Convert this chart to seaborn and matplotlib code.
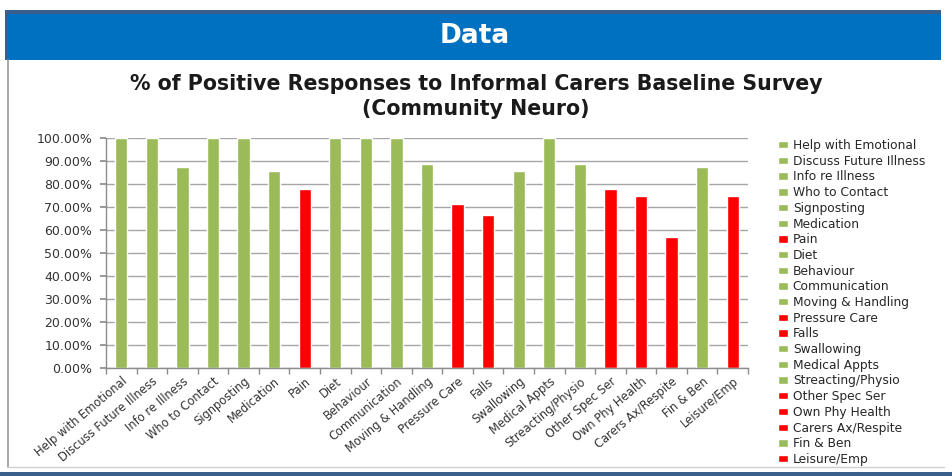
import matplotlib
matplotlib.use("Agg")
import matplotlib.pyplot as plt
import seaborn as sns
import pandas as pd
from matplotlib.patches import Rectangle
from matplotlib.lines import Line2D
from matplotlib.ticker import FuncFormatter, MultipleLocator

categories = ["Help with Emotional", "Discuss Future Illness", "Info re Illness",
              "Who to Contact", "Signposting", "Medication", "Pain", "Diet",
              "Behaviour", "Communication", "Moving & Handling", "Pressure Care",
              "Falls", "Swallowing", "Medical Appts", "Streacting/Physio",
              "Other Spec Ser", "Own Phy Health", "Carers Ax/Respite",
              "Fin & Ben", "Leisure/Emp"]
values = [100.0, 100.0, 87.5, 100.0, 100.0, 85.71, 77.78, 100.0, 100.0, 100.0,
          88.89, 71.43, 66.67, 85.71, 100.0, 88.89, 77.78, 75.0, 57.14, 87.5, 75.0]
status = ["ok", "ok", "ok", "ok", "ok", "ok", "low", "ok", "ok", "ok", "ok",
          "low", "low", "ok", "ok", "ok", "low", "low", "low", "ok", "low"]

GREEN = "#9BBB59"
RED = "#FF0000"
colors = [GREEN if s == "ok" else RED for s in status]

df = pd.DataFrame({"cat": categories, "val": values})

sns.set_theme(style="white")
plt.rcParams["font.family"] = ["DejaVu Sans"]

fig = plt.figure(figsize=(9.52, 4.76), dpi=100)
fig.patch.set_facecolor("white")

H = 476.0
W = 952.0
def fx(x): return x / W
def fy(y): return 1 - y / H

# header bar
fig.patches.append(Rectangle((fx(7), fy(60)), fx(934), (60 - 10) / H,
                             transform=fig.transFigure, facecolor="#0070C0",
                             edgecolor="none", zorder=0))
fig.patches.append(Rectangle((fx(7), fy(14)), fx(934), 4 / H,
                             transform=fig.transFigure, facecolor="#3A5F8A",
                             edgecolor="none", zorder=1))
fig.patches.append(Rectangle((fx(5), fy(60)), fx(3), (60 - 10) / H,
                             transform=fig.transFigure, facecolor="#3A5F8A",
                             edgecolor="none", zorder=1))
fig.text(fx(475), fy(36), "Data", color="white", fontsize=19, fontweight="bold",
         ha="center", va="center")
# panel border lines
fig.add_artist(Line2D([fx(8), fx(8)], [fy(60), fy(467)], color="#9A9A9A", lw=1.2))
fig.add_artist(Line2D([fx(8), fx(944)], [fy(467), fy(467)], color="#CFCFCF", lw=1.0))
fig.patches.append(Rectangle((0, 0), 1, 4 / H, transform=fig.transFigure,
                             facecolor="#3A5F8A", edgecolor="none"))

fig.text(fx(476), fy(84), "% of Positive Responses to Informal Carers Baseline Survey",
         fontsize=14.8, fontweight="bold", ha="center", va="center", color="#1a1a1a")
fig.text(fx(476), fy(109), "(Community Neuro)",
         fontsize=14.8, fontweight="bold", ha="center", va="center", color="#1a1a1a")

ax = fig.add_axes([fx(106), fy(368), fx(748 - 106), (368 - 138) / H])
sns.barplot(data=df, x="cat", y="val", hue="cat", palette=colors, width=0.4,
            dodge=False, legend=True, ax=ax, saturation=1)

ax.set_ylim(0, 100)
ax.set_xlim(-0.5, len(categories) - 0.5)
ax.yaxis.set_major_locator(MultipleLocator(10))
ax.yaxis.set_major_formatter(FuncFormatter(lambda v, p: f"{v:.2f}%"))
ax.grid(axis="y", color="#A6A6A6", lw=1.0)
ax.set_axisbelow(True)
ax.set_xlabel("")
ax.set_ylabel("")
for s in ["top", "right"]:
    ax.spines[s].set_visible(False)
for s in ["left", "bottom"]:
    ax.spines[s].set_color("#8C8C8C")
    ax.spines[s].set_linewidth(1.0)

ax.set_xticks(range(len(categories)))
ax.set_xticklabels(categories, rotation=40, ha="right", rotation_mode="anchor",
                   fontsize=8.3, color="#333333")
ax.tick_params(axis="x", length=0, pad=5)
ax.tick_params(axis="y", labelsize=9, colors="#333333", length=4, left=True,
               color="#8C8C8C", pad=6)
# category boundary tick marks
ax.set_xticks([i - 0.5 for i in range(len(categories) + 1)], minor=True)
ax.tick_params(axis="x", which="minor", length=4, bottom=True, color="#8C8C8C")

handles, labels = ax.get_legend_handles_labels()
ax.get_legend().remove()
fig.legend(handles, labels, loc="upper left", bbox_to_anchor=(fx(772), fy(133)),
           frameon=False, fontsize=8.8, handlelength=0.8, handleheight=0.55,
           handletextpad=0.4, labelspacing=0.22, borderpad=0)

fig.savefig("out.png", dpi=100, facecolor="white")
